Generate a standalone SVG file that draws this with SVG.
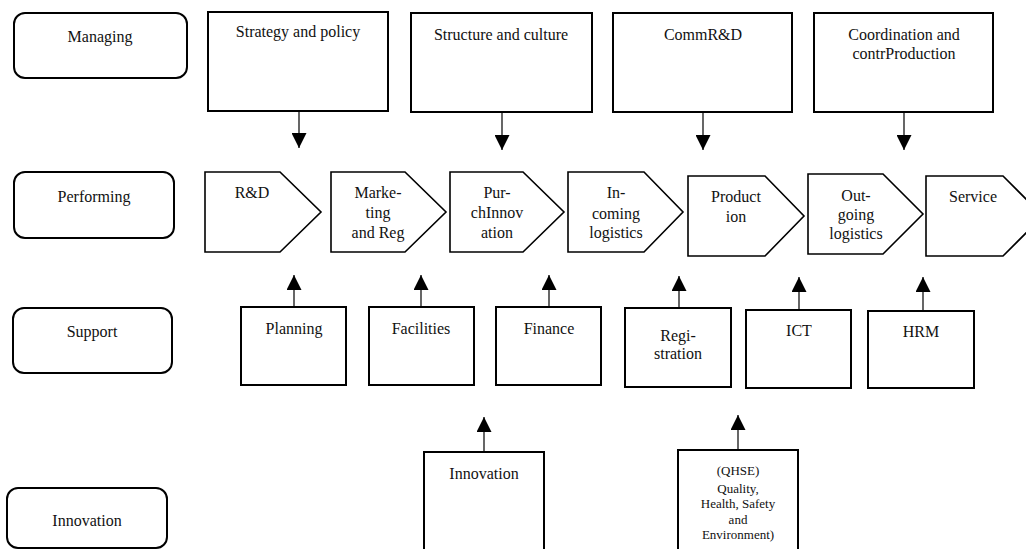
<svg xmlns="http://www.w3.org/2000/svg" width="1026" height="549" viewBox="0 0 1026 549" font-family="'Liberation Serif', Tinos, 'Times New Roman', 'DejaVu Serif', serif">
  <defs>
    <marker id="arrow" markerUnits="userSpaceOnUse" viewBox="0 0 15 15" refX="15" refY="7.5" markerWidth="15" markerHeight="15" orient="auto">
      <path d="M0,0 L15,7.5 L0,15 Z" fill="#000"/>
    </marker>
  </defs>
  <style>
    .lane { fill: #fff; stroke: #000; stroke-width: 2; }
    .box { fill: #fff; stroke: #000; stroke-width: 2; }
    .chev { fill: #fff; stroke: #000; stroke-width: 1.6; stroke-linejoin: miter; }
    .conn { fill: none; stroke: #000; stroke-width: 1.2; marker-end: url(#arrow); }
    text { font-family: 'Liberation Serif', Tinos, 'Times New Roman', 'DejaVu Serif', serif; font-size: 16px; fill: #111; text-anchor: middle; }
    .small { font-size: 13px; }
  </style>

  <rect width="1026" height="549" fill="#fff"/>

  <!-- row labels -->
  <g id="lane-managing"><rect class="lane" x="14" y="13" width="173" height="65" rx="11"/><text x="100" y="42">Managing</text></g>
  <g id="lane-performing"><rect class="lane" x="14" y="172" width="160" height="66" rx="11"/><text x="94" y="202">Performing</text></g>
  <g id="lane-support"><rect class="lane" x="13" y="308" width="159" height="65" rx="11"/><text x="92" y="337">Support</text></g>
  <g id="lane-innovation"><rect class="lane" x="7" y="488" width="160" height="60" rx="11"/><text x="87" y="526">Innovation</text></g>

  <!-- managing activities -->
  <g id="strategy"><rect class="box" x="208" y="12" width="180" height="99"/><text x="298" y="37">Strategy and policy</text></g>
  <g id="structure"><rect class="box" x="411" y="13" width="181" height="99"/><text x="501" y="40">Structure and culture</text></g>
  <g id="commrd"><rect class="box" x="613" y="13" width="179" height="99"/><text x="703" y="40">CommR&amp;D</text></g>
  <g id="coordination"><rect class="box" x="814" y="13" width="179" height="99"/><text x="904" y="40">Coordination and</text><text x="904" y="59">contrProduction</text></g>

  <!-- primary activities -->
  <g id="rd"><path class="chev" d="M205,172 H280 L321,212 L280,252 H205 Z"/><text x="252" y="198">R&amp;D</text></g>
  <g id="marketing"><path class="chev" d="M331,172 H405 L446,212 L405,252 H331 Z"/><text x="378" y="198">Marke-</text><text x="378" y="218">ting</text><text x="378" y="238">and Reg</text></g>
  <g id="purchasing"><path class="chev" d="M450,172 H523 L564,212 L523,252 H450 Z"/><text x="497" y="198">Pur-</text><text x="497" y="218">chInnov</text><text x="497" y="238">ation</text></g>
  <g id="incoming"><path class="chev" d="M568,172 H644 L683,212 L644,252 H568 Z"/><text x="616" y="198">In-</text><text x="616" y="219">coming</text><text x="616" y="238">logistics</text></g>
  <g id="production"><path class="chev" d="M688,176 H765 L804,216 L765,256 H688 Z"/><text x="736" y="202">Product</text><text x="736" y="222">ion</text></g>
  <g id="outgoing"><path class="chev" d="M808,174 H883 L923,214 L883,254 H808 Z"/><text x="856" y="201">Out-</text><text x="856" y="220">going</text><text x="856" y="239">logistics</text></g>
  <g id="service"><path class="chev" d="M926,176 H1003 L1043,216 L1003,256 H926 Z"/><text x="973" y="202">Service</text></g>

  <!-- support activities -->
  <g id="planning"><rect class="box" x="241" y="307" width="105" height="78"/><text x="294" y="334">Planning</text></g>
  <g id="facilities"><rect class="box" x="369" y="307" width="105" height="78"/><text x="421" y="334">Facilities</text></g>
  <g id="finance"><rect class="box" x="496" y="307" width="105" height="78"/><text x="549" y="334">Finance</text></g>
  <g id="registration"><rect class="box" x="625" y="308" width="106" height="79"/><text x="678" y="341">Regi-</text><text x="678" y="359">stration</text></g>
  <g id="ict"><rect class="box" x="746" y="310" width="105" height="78"/><text x="799" y="336">ICT</text></g>
  <g id="hrm"><rect class="box" x="868" y="311" width="106" height="77"/><text x="921" y="337">HRM</text></g>

  <!-- innovation activities -->
  <g id="innovation"><rect class="box" x="424" y="452" width="120" height="110"/><text x="484" y="479">Innovation</text></g>
  <g id="qhse"><rect class="box" x="678" y="450" width="120" height="112"/>
    <text class="small" x="738" y="475">(QHSE)</text>
    <text class="small" x="738" y="493">Quality,</text>
    <text class="small" x="738" y="508">Health, Safety</text>
    <text class="small" x="738" y="524">and</text>
    <text class="small" x="738" y="539">Environment)</text>
  </g>

  <!-- connectors -->
  <g id="connectors">
    <line class="conn" x1="299" y1="112" x2="299" y2="148"/>
    <line class="conn" x1="502" y1="113" x2="502" y2="150"/>
    <line class="conn" x1="703" y1="113" x2="703" y2="150"/>
    <line class="conn" x1="904" y1="113" x2="904" y2="150"/>

    <line class="conn" x1="294" y1="306" x2="294" y2="275"/>
    <line class="conn" x1="421" y1="306" x2="421" y2="275"/>
    <line class="conn" x1="549" y1="306" x2="549" y2="275"/>
    <line class="conn" x1="679" y1="307" x2="679" y2="276"/>
    <line class="conn" x1="799" y1="309" x2="799" y2="277"/>
    <line class="conn" x1="923" y1="310" x2="923" y2="277"/>

    <line class="conn" x1="484" y1="451" x2="484" y2="417"/>
    <line class="conn" x1="738" y1="449" x2="738" y2="415"/>
  </g>
</svg>
